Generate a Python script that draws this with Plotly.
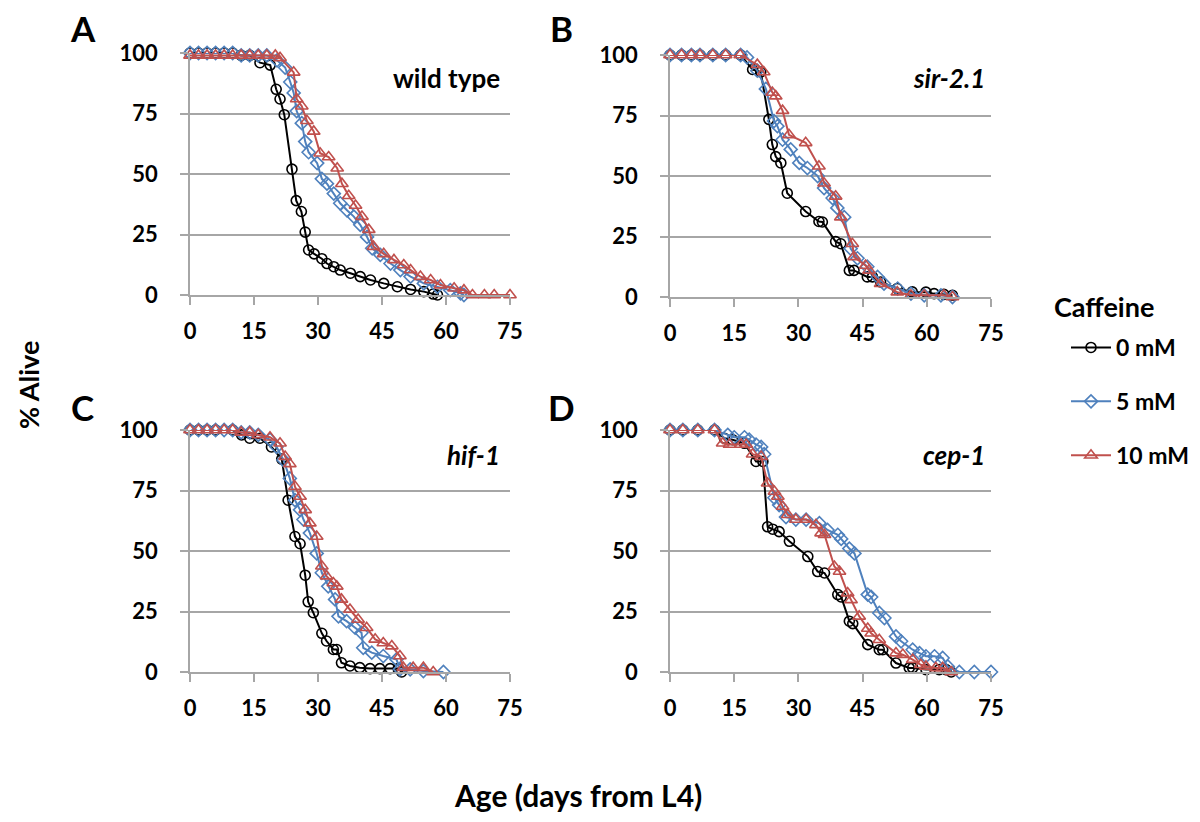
import plotly.graph_objects as go

# ---------------- data ----------------
x_ticks = [0, 15, 30, 45, 60, 75]
y_ticks = [0, 25, 50, 75, 100]
series_names = ["0 mM", "5 mM", "10 mM"]
legend_title = "Caffeine"
panel_letters = ["A", "B", "C", "D"]
panel_strains = ["wild type", "sir-2.1", "hif-1", "cep-1"]
x_title = "Age (days from L4)"
y_title = "% Alive"

# Panel A: wild type
a0_x = [0, 2, 4, 6, 8, 10, 12, 14, 16.4, 18.8, 20.2, 21.1, 22.1, 23.9, 24.9, 26.1, 27, 27.8, 29.1, 30.9, 32.1, 33.7, 35.2, 37.6, 39.9, 42.3, 45.4, 48.6, 51.7, 54.8, 57, 58]
a0_y = [100, 100, 100, 100, 100, 100, 99, 99, 96, 95, 85, 81, 74.5, 52, 39, 34.5, 26, 18.6, 17, 15, 13, 11.7, 10.3, 9, 7.6, 6.2, 4.8, 3.4, 2.3, 1.4, 0.4, 0]
a5_x = [0, 2, 4, 6, 8, 10, 12, 14, 16, 18, 20.4, 22.3, 23.5, 24.3, 25, 26.2, 27, 27.8, 29.8, 30.9, 32.1, 33.7, 35.2, 36.8, 38.4, 39.9, 41.5, 42.7, 44.6, 47, 49.3, 51.7, 54.8, 58, 61, 63.4, 64.2]
a5_y = [100, 100, 100, 100, 100, 100, 99, 99, 99, 99, 97, 94, 88, 83.5, 76, 71, 63.4, 59, 54.5, 48, 46, 41.9, 37.9, 35, 32.4, 29, 24, 19.3, 16.6, 13, 10.3, 7.6, 4.8, 3.4, 2, 0.7, 0]
a10_x = [0, 2, 4, 6, 8, 10, 12, 14, 16, 18, 20, 21.1, 24.3, 25, 26.2, 27.4, 29, 30.5, 32.5, 34.5, 35.6, 37.2, 38.8, 40.3, 41.9, 43, 45.4, 47.8, 50.1, 51.7, 54, 56.4, 58.7, 61.9, 64.2, 66.2, 69, 71.3, 75]
a10_y = [99, 99, 99, 99, 99, 99, 99, 99, 99, 99, 99, 98, 92, 81, 78, 72, 67.6, 58.6, 57, 52.4, 46, 41, 37, 32.4, 27, 20, 17, 14.5, 12.4, 10.3, 7.6, 6.2, 4.1, 2.8, 2, 0, 0, 0, 0]

# Panel B: sir-2.1
b0_x = [0, 2.7, 5, 7, 10, 13, 16.5, 19.3, 21.2, 23.1, 23.9, 24.7, 25.9, 27.4, 31.7, 34.8, 35.6, 38.7, 39.9, 41.9, 43, 46.1, 47.3, 49.2, 53.1, 56.6, 59.8, 61.7, 64, 66]
b0_y = [100, 100, 100, 100, 100, 100, 100, 94, 93, 73.4, 63, 58, 55.4, 42.9, 35.3, 31.2, 31, 22.9, 22, 11, 11, 8.3, 8.3, 6.2, 3.5, 2.1, 2, 1.4, 1.1, 0.7]
b5_x = [0, 2.7, 5, 7, 10, 13, 16.5, 18, 20.4, 22.4, 24.3, 25.1, 26.3, 28.2, 30.2, 32.1, 34.5, 36, 38, 39.1, 40.7, 42.2, 43.8, 46.1, 48.5, 50, 53.2, 56.3, 59.4, 63.3, 66]
b5_y = [100, 100, 100, 100, 100, 100, 100, 99, 93.5, 86, 72.7, 70.6, 65, 61, 55.4, 53.3, 50, 45, 40.9, 36.8, 33, 20, 16, 12.5, 8.3, 5.5, 3.5, 1.4, 0.7, 0.7, 0]
b10_x = [0, 2.7, 5, 7, 10, 13, 16.4, 20.4, 21.9, 23.9, 24.7, 26.3, 27.8, 31.7, 34.8, 36, 38.7, 39.9, 42.6, 43, 45.7, 46.5, 49.2, 53.1, 56.3, 59.4, 64, 66]
b10_y = [100, 100, 100, 100, 100, 100, 100, 96, 93, 84.5, 83, 77, 67, 63.7, 54, 47, 41.6, 33, 22, 16.6, 13, 11, 5.5, 2, 0.7, 0.7, 0.7, 0]

# Panel C: hif-1
c0_x = [0, 2, 4, 6, 10, 12.1, 14, 16.4, 19.1, 21.5, 23, 24.6, 25.8, 27, 27.7, 28.9, 30.9, 32, 33.6, 34.4, 35.5, 37.5, 39.8, 42.2, 44.5, 46.9, 48.8, 49.6]
c0_y = [100, 100, 100, 100, 100, 98, 96.6, 96.6, 93, 88, 71, 56, 53, 40, 29, 24.5, 16, 12.8, 9.3, 9.3, 3.8, 2.5, 1.8, 1.4, 1.4, 1.4, 1.4, 0]
c5_x = [0, 2, 4, 6, 8, 10, 12, 14, 16, 18.75, 20.3, 21.9, 23.4, 24.6, 25.8, 26.6, 28.1, 29.7, 30.9, 32.4, 34, 34.8, 36.7, 38.7, 40.2, 40.6, 42.6, 45.3, 48.4, 49.2, 51.6, 54.7, 59.4]
c5_y = [100, 100, 100, 100, 100, 100, 99, 99, 98, 96, 93, 87.6, 80, 71, 67, 63, 57.4, 49, 41, 35.4, 30, 23, 21, 18.3, 16.2, 10, 8, 6.6, 5.2, 1.1, 1.1, 0.4, 0]
c10_x = [0, 2, 4, 6, 8, 10, 12, 14, 16, 18.75, 21.1, 22.3, 23.4, 24.6, 25.8, 27, 28.1, 29.7, 30.9, 32, 33.6, 34.4, 35.5, 37.5, 39.4, 41.4, 43.4, 45.3, 47.3, 49.2, 50, 52.3, 54.7, 57]
c10_y = [100, 100, 100, 100, 100, 100, 99, 99, 98, 97, 94.5, 89, 86, 76.6, 72.5, 67, 61.5, 56, 43.7, 39.6, 36.8, 35.4, 30, 25.8, 21.7, 18.3, 13.5, 12, 10.7, 6.6, 1.8, 1.8, 1.8, 0]

# Panel D: cep-1
d0_x = [0, 3, 6.5, 10.4, 12.7, 14.6, 17.4, 20.1, 21.7, 22.8, 24, 25.5, 27.9, 32.2, 34.5, 36.1, 39.2, 40, 41.9, 42.7, 46.2, 48.9, 49.7, 52.8, 55.9, 56.7, 59.8, 62.9, 64.5, 65.7]
d0_y = [100, 100, 100, 100, 96.6, 96, 94.5, 87, 87, 60, 59, 58, 54, 47.7, 41.5, 40.9, 32, 31, 21, 20, 11.3, 9.2, 9.2, 3.7, 1.7, 1.7, 1, 1, 1, 0]
d5_x = [0, 3, 6.5, 10.4, 13.5, 15, 17.4, 18.5, 20.1, 21.3, 22, 24.4, 25.5, 27.1, 29.4, 31.8, 34.9, 36.8, 39.2, 40, 41.9, 43.1, 46.2, 47, 48.9, 50.1, 52.8, 54, 56.7, 58.3, 59.8, 61.8, 63.7, 64.9, 67.6, 71.1, 75]
d5_y = [100, 100, 100, 100, 98, 97, 97, 96, 94, 93, 90, 72, 69, 64, 63, 63, 61.5, 58.7, 56.7, 55, 51, 49, 32, 31, 24.4, 22.3, 14.7, 12.7, 9.2, 7.8, 6.5, 6.5, 5.8, 2.3, 0, 0, 0]
d10_x = [0, 3, 6.5, 10.4, 12.3, 13.9, 16.6, 17.8, 19.3, 21.3, 22.8, 24.4, 25.2, 26.3, 27.5, 29.4, 31.8, 34.1, 35.3, 36.1, 38.4, 39.6, 41.5, 42.3, 44.2, 46.2, 47, 48.9, 52.8, 54.4, 56.7, 58.6, 59.8, 62.1, 63.7, 65.7]
d10_y = [100, 100, 100, 100, 94.5, 94, 94, 94, 90, 89, 78, 74.6, 72.5, 68.4, 65, 63, 63, 60.8, 57.4, 56.7, 43.6, 41.5, 32.6, 29.8, 23, 18, 16, 13.3, 7.8, 7.2, 5.1, 3, 2.3, 1.7, 1.7, 0]

panels = [
    [(a0_x, a0_y), (a5_x, a5_y), (a10_x, a10_y)],
    [(b0_x, b0_y), (b5_x, b5_y), (b10_x, b10_y)],
    [(c0_x, c0_y), (c5_x, c5_y), (c10_x, c10_y)],
    [(d0_x, d0_y), (d5_x, d5_y), (d10_x, d10_y)],
]

# ---------------- style ----------------
W, H = 1200, 822
OFF = 8  # page body margin offset
FONT = "Lato"
colors = ["#000000", "#4F81BD", "#C0504D"]
symbols = ["circle-open", "diamond-open", "triangle-up-open"]
msizes = [10, 10, 11]
grid_col = "#A6A6A6"

# pixel boxes for plot areas in the screenshot: (x0, x1, ytop, ybottom)
boxes = [(190, 510, 53, 295), (670, 991, 55, 297), (190, 510, 430, 672), (670, 991, 430, 672)]

def px(x):
    return (x - OFF) / W

def py(y):
    return 1 - (y - OFF) / H

fig = go.Figure()
for i, (box, series) in enumerate(zip(boxes, panels)):
    xa = "x" if i == 0 else f"x{i+1}"
    ya = "y" if i == 0 else f"y{i+1}"
    for j, (xs, ys) in enumerate(series):
        fig.add_trace(go.Scatter(
            x=xs, y=ys, xaxis=xa, yaxis=ya, mode="lines+markers",
            name=series_names[j], legendgroup=series_names[j], showlegend=(i == 0),
            line=dict(color=colors[j], width=2),
            marker=dict(symbol=symbols[j], size=msizes[j], color=colors[j],
                        line=dict(color=colors[j], width=1.6)),
            cliponaxis=False,
        ))
    x0, x1, yt, yb = box
    xkey = "xaxis" if i == 0 else f"xaxis{i+1}"
    ykey = "yaxis" if i == 0 else f"yaxis{i+1}"
    fig.update_layout(**{
        xkey: dict(domain=[px(x0), px(x1)], anchor=ya, range=[0, 75], tickvals=x_ticks,
                   automargin=False,
                   showgrid=False, zeroline=False, showline=True, linecolor=grid_col, linewidth=1.5,
                   ticks="outside", ticklen=8, tickwidth=1.5, tickcolor=grid_col,
                   ticklabelstandoff=8,
                   tickfont=dict(family=FONT, size=22, color="#000", weight="bold")),
        ykey: dict(domain=[py(yb), py(yt)], anchor=xa, range=[0, 100], tickvals=y_ticks,
                   automargin=False,
                   showgrid=True, gridcolor=grid_col, gridwidth=1.5, zeroline=False,
                   showline=True, linecolor=grid_col, linewidth=1.5,
                   ticks="outside", ticklen=8, tickwidth=1.5, tickcolor=grid_col,
                   ticklabelstandoff=18,
                   tickfont=dict(family=FONT, size=22, color="#000", weight="bold")),
    })

annotations = []
letter_pos = [(83, 28), (561, 28), (82, 407), (561, 407)]
for (lx, ly), letter in zip(letter_pos, panel_letters):
    annotations.append(dict(x=px(lx), y=py(ly), xref="paper", yref="paper", text=letter,
                            showarrow=False, xanchor="center", yanchor="middle",
                            font=dict(family=FONT, size=35, color="#000", weight="bold")))
strain_pos = [(502, 78), (987, 78), (502, 455), (987, 455)]
for k, ((sx, sy), s) in enumerate(zip(strain_pos, panel_strains)):
    txt = s if k == 0 else f"<i>{s}</i>"
    annotations.append(dict(x=px(sx), y=py(sy), xref="paper", yref="paper", text=txt,
                            showarrow=False, xanchor="right", yanchor="middle",
                            font=dict(family=FONT, size=26, color="#000", weight="bold")))
annotations.append(dict(x=px(29), y=py(385), xref="paper", yref="paper", text=y_title,
                        showarrow=False, textangle=-90, xanchor="center", yanchor="middle",
                        font=dict(family=FONT, size=27, color="#000", weight="bold")))
annotations.append(dict(x=px(578), y=py(795), xref="paper", yref="paper", text=x_title,
                        showarrow=False, xanchor="center", yanchor="middle",
                        font=dict(family=FONT, size=30, color="#000", weight="bold")))
annotations.append(dict(x=px(1052), y=py(307), xref="paper", yref="paper", text=legend_title,
                        showarrow=False, xanchor="left", yanchor="middle",
                        font=dict(family=FONT, size=27, color="#000", weight="bold")))

fig.update_layout(
    width=W, height=H, margin=dict(l=0, r=0, t=0, b=0, autoexpand=False),
    paper_bgcolor="white", plot_bgcolor="white",
    annotations=annotations,
    legend=dict(x=px(1066), y=py(326), xanchor="left", yanchor="top",
                font=dict(family=FONT, size=23, color="#000", weight="bold"),
                tracegroupgap=21, itemwidth=40, bgcolor="rgba(0,0,0,0)"),
)

fig.write_html("out.html")
